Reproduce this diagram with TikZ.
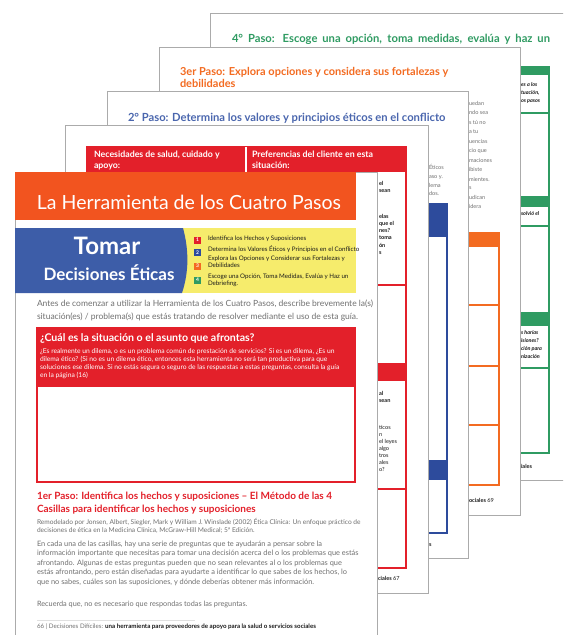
\documentclass[tikz,border=0pt]{standalone}
\usepackage{fontspec}
\setmainfont{Lato}
\usepackage{xcolor}
\usepackage{tikz}
\usetikzlibrary{positioning}
\definecolor{PageGray}{HTML}{ABABAB}
\definecolor{HeadOrange}{HTML}{F2541F}
\definecolor{CoverBlue}{HTML}{3D5DA8}
\definecolor{CoverYellow}{HTML}{F6EC6C}
\definecolor{StepRed}{HTML}{E3202A}
\definecolor{StepBlue}{HTML}{2D4B9C}
\definecolor{TitleBlue}{HTML}{4A66AE}
\definecolor{StepOrange}{HTML}{F36B21}
\definecolor{StepGreen}{HTML}{2F9B62}
\definecolor{TextGray}{HTML}{707070}
\definecolor{TextDark}{HTML}{1A1A1A}

\begin{document}
\begin{tikzpicture}[x=1pt,y=-1pt,
    every node/.style={inner sep=0pt,outer sep=0pt},
    page/.style={draw=PageGray,fill=white,line width=0.8pt},
    frag/.style={anchor=base west,font=\fontsize{5.6}{6}\selectfont,text=TextGray},
    bfrag/.style={anchor=base west,font=\bfseries\fontsize{5.6}{6}\selectfont,text=TextDark},
    ifrag/.style={anchor=base west,font=\bfseries\itshape\fontsize{5.4}{6}\selectfont,text=TextDark},
    para/.style={anchor=north west,align=left,text=TextGray},
    steptitle/.style={anchor=base west,align=left},
    listtext/.style={anchor=north west,align=left,text=TextDark,font=\fontsize{6.2}{6.6}\selectfont},
    numbox/.style={minimum size=7pt,font=\bfseries\fontsize{5}{5}\selectfont,text=white}]
  \useasboundingbox (0,0) rectangle (563,635);
  \clip (0,0) rectangle (563,635);
  \fill[white] (0,0) rectangle (563,635);

  % page 4: escoge una opcion
  \draw[page] (210,13) rectangle (600,480);
  \node[steptitle,text=StepGreen,font=\bfseries\fontsize{11.2}{12}\selectfont]
    (t4) at (232,42) {\makebox[318pt][s]{4° Paso: Escoge una opción, toma medidas, evalúa y haz un}};
  \draw[StepGreen,line width=1.3pt] (240,67) rectangle (549,453);
  \fill[StepGreen] (240,67) rectangle (549,75);
  \fill[StepGreen] (240,196) rectangle (549,207);
  \fill[StepGreen] (240,312) rectangle (549,326);
  \draw[StepGreen,line width=1.3pt] (240,113) -- (549,113) (240,226) -- (549,226)
    (240,368) -- (549,368);
  \foreach \t/\y [count=\i] in {es a los/86,{tuación,}/94,os pasos/102,solvió el/215,
      s harías/334,isiones?/342,ción para/350,nización/358}
    \node[ifrag] (g\i) at (521,\y) {\t};
  \node[bfrag] (f4) at (521,468) {iales};

  % page 3: explora opciones
  \draw[page] (159,47) rectangle (520,515);
  \node[steptitle,text=StepOrange,font=\bfseries\fontsize{11}{11.5}\selectfont]
    (t3) at (180,87) {3er Paso: Explora opciones y considera sus fortalezas y\\debilidades};
  \draw[StepOrange,line width=1.3pt] (190,233) rectangle (499,485);
  \fill[StepOrange] (190,233) rectangle (499,247);
  \draw[StepOrange,line width=1.3pt] (190,305) -- (499,305) (190,366) -- (499,366)
    (190,425) -- (499,425);
  \foreach \t/\y [count=\i] in {uedan/105,ndo sea/114,s tú no/124,a tu/133,uencias/143,
      cio que/152,maciones/162,ibiste/171,mientes./181,s/189,udican/199,idera/208}
    \node[frag] (o\i) at (469,\y) {\t};
  \node[bfrag] (f3) at (469,502) {ociales \mdseries 69};

  % page 2: valores y principios
  \draw[page] (107,91) rectangle (468,558);
  \node[steptitle,text=TitleBlue,font=\bfseries\fontsize{11.2}{12}\selectfont]
    (t2) at (128,121) {2° Paso: Determina los valores y principios éticos en el conflicto};
  \draw[StepBlue,line width=1.3pt] (140,204) rectangle (447,533);
  \fill[StepBlue] (140,204) rectangle (447,237);
  \fill[StepBlue] (140,460) rectangle (447,480);
  \foreach \t/\y [count=\i] in {Éticos/169,aso y./178,lema/187,dos./195}
    \node[frag] (b\i) at (429,\y) {\t};
  \node[bfrag] (f2) at (429,546) {s};

  % page 1b: las 4 casillas
  \draw[page] (65,125) rectangle (428,593);
  \draw[StepRed,line width=1.3pt] (87,147) rectangle (406,568);
  \fill[StepRed] (87,147) rectangle (406,172);
  \draw[white,line width=1.5pt] (246,147) -- (246,172);
  \node[steptitle,text=white,font=\bfseries\fontsize{8.8}{11}\selectfont]
    (h1) at (94,168) {Necesidades de salud, cuidado y\\apoyo:};
  \node[steptitle,text=white,font=\bfseries\fontsize{8.8}{11}\selectfont]
    (h2) at (252,168) {Preferencias del cliente en esta\\situación:};
  \draw[StepRed,line width=1.3pt] (87,285) -- (406,285) (87,489) -- (406,489);
  \fill[StepRed] (87,363) rectangle (406,381);
  \foreach \t/\y [count=\i] in {el/185,sean/192,elas/218,que el/225,nes?/232,toma/239,
      ón/247,s/254,al/395,sean/402}
    \node[bfrag] (r\i) at (379,\y) {\t};
  \foreach \t/\y [count=\i] in {ticos/429,n/436,el leyes/443,algo/450,tros/457,ales/464,o?/471}
    \node[frag,text=TextDark] (q\i) at (379,\y) {\t};
  \node[bfrag] (f1) at (378,580) {ciales \mdseries 67};

  % front page: la herramienta
  \draw[page] (15,172) rectangle (377,660);
  \fill[HeadOrange] (15,172) rectangle (356,220);
  \node[text=white,font=\fontsize{19.5}{22}\selectfont] (title) at (189,202)
    {La Herramienta de los Cuatro Pasos};
  \fill[CoverYellow] (180,228) rectangle (356,293);
  \fill[CoverBlue] (15,228) -- (183,228) .. controls (189,250) and (189,272) .. (182,293)
    -- (15,293) -- cycle;
  \node[text=white,font=\bfseries\fontsize{24}{26}\selectfont] (tomar) at (107,246) {Tomar};
  \node[text=white,font=\bfseries\fontsize{17}{19}\selectfont] (decis) at (109,273)
    {Decisiones Éticas};
  \node[numbox,fill=StepRed] (n1) at (197.5,240) {1};
  \node[numbox,fill=StepBlue] (n2) at (197.5,252.5) {2};
  \node[numbox,fill=StepOrange] (n3) at (197.5,266) {3};
  \node[numbox,fill=StepGreen] (n4) at (197.5,280) {4};
  \node[listtext] (l1) at (208,236)
    {Identifica los Hechos y Suposiciones};
  \node[listtext] (l2) at (208,246)
    {Determina los Valores Éticos y Principios en el Conflicto};
  \node[listtext] (l3) at (208,256)
    {Explora las Opciones y Considerar sus Fortalezas y\\Debilidades};
  \node[listtext] (l4) at (208,274)
    {Escoge una Opción, Toma Medidas, Evalúa y Haz un\\Debriefing.};
  \node[para,font=\fontsize{8.5}{13}\selectfont] (intro) at (37,300)
    {Antes de comenzar a utilizar la Herramienta de los Cuatro Pasos, describe brevemente la(s)\\
     situación(es) / problema(s) que estás tratando de resolver mediante el uso de esta guía.};
  \draw[StepRed,line width=1.3pt] (37,328) rectangle (355,482);
  \fill[StepRed] (37,328) rectangle (355,387);
  \node[steptitle,text=white,font=\bfseries\fontsize{10.6}{12}\selectfont] (q) at (40,341)
    {¿Cuál es la situación o el asunto que afrontas?};
  \node[para,text=white,font=\fontsize{6.7}{8}\selectfont] (qsub) at (40,349)
    {¿Es realmente un dilema, o es un problema común de prestación de servicios? Si es un dilema, ¿Es un\\
     dilema ético? (Si no es un dilema ético, entonces esta herramienta no será tan productiva para que\\
     soluciones ese dilema. Si no estás segura o seguro de las respuestas a estas preguntas, consulta la guía\\
     en la página (16)};
  \node[steptitle,text=StepRed,font=\bfseries\fontsize{10}{12.5}\selectfont] (s1) at (37,512)
    {1er Paso: Identifica los hechos y suposiciones – El Método de las 4\\
     Casillas para identificar los hechos y suposiciones};
  \node[para,font=\fontsize{6.6}{8}\selectfont] (ref) at (37,518)
    {Remodelado por Jonsen, Albert, Siegler, Mark y William J. Winslade (2002) Ética Clínica: Un enfoque práctico de\\
     decisiones de ética en la Medicina Clínica, McGraw-Hill Medical; 5ª Edición.};
  \node[para,font=\fontsize{7.4}{9.5}\selectfont] (body) at (37,541)
    {En cada una de las casillas, hay una serie de preguntas que te ayudarán a pensar sobre la\\
     información importante que necesitas para tomar una decisión acerca del o los problemas que estás\\
     afrontando. Algunas de estas preguntas pueden que no sean relevantes al o los problemas que\\
     estás afrontando, pero están diseñadas para ayudarte a identificar lo que sabes de los hechos, lo\\
     que no sabes, cuáles son las suposiciones, y dónde deberías obtener más información.};
  \node[steptitle,text=TextGray,font=\fontsize{7.3}{8}\selectfont] (rec) at (37,606)
    {Recuerda que, no es necesario que respondas todas las preguntas.};
  \draw[black!12,line width=0.6pt] (37,620) -- (195,620);
  \node[steptitle,text=TextGray,font=\fontsize{6.2}{7}\selectfont] (foot) at (37,628)
    {66 | Decisiones Difíciles: \textcolor{TextDark}{\bfseries una herramienta para proveedores de apoyo para la salud o servicios sociales}};
\end{tikzpicture}
\end{document}
